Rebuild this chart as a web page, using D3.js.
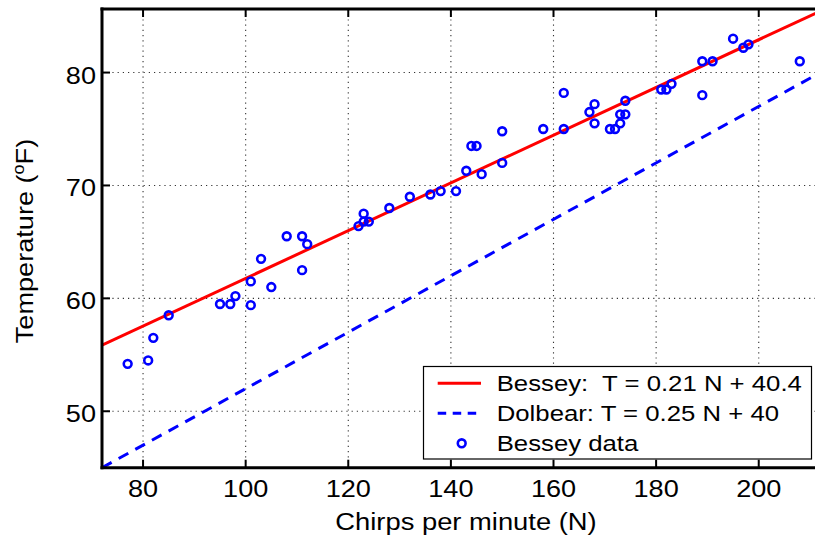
<!DOCTYPE html>
<html>
<head>
<meta charset="utf-8">
<script src="https://cdn.jsdelivr.net/npm/d3@7"></script>
<style>
  body { margin: 0; background: #fff; }
  text { font-family: "Liberation Sans", Arial, Helvetica, sans-serif; fill: #000; white-space: pre; }
</style>
</head>
<body>
<svg id="chart" width="815" height="538"></svg>
<script>
// Bessey cricket observations: chirps per minute and temperature (°F)
const chirps = [77, 81, 82, 85, 95, 97, 98, 101, 101, 103, 105, 108, 111, 111, 112,
  122, 123, 123, 124, 128, 132, 136, 138, 141, 143, 144, 145, 146, 150, 150,
  158, 162, 162, 167, 168, 168, 171, 172, 173, 173, 174, 174, 181, 182, 183,
  189, 189, 191, 195, 197, 198, 208];
const temps = [54.2, 54.5, 56.5, 58.5, 59.5, 59.5, 60.2, 59.4, 61.5, 63.5, 61.0, 65.5, 65.5, 62.5, 64.8,
  66.4, 67.5, 66.8, 66.8, 68.0, 69.0, 69.2, 69.5, 69.5, 71.3, 73.5, 73.5, 71.0, 74.8, 72.0,
  75.0, 78.2, 75.0, 76.5, 77.2, 75.5, 75.0, 75.0, 75.5, 76.3, 76.3, 77.5, 78.5, 78.5, 79.0,
  81.0, 78.0, 81.0, 83.0, 82.2, 82.5, 81.0];

// Straight-line relations T = slope * N + intercept
const fitSlopes = [0.2114, 0.25];
const fitIntercepts = [40.63, 27];

const xTicks = [80, 100, 120, 140, 160, 180, 200];
const yTicks = [50, 60, 70, 80];
const legendLabels = ["Bessey:  T = 0.21 N + 40.4", "Dolbear: T = 0.25 N + 40", "Bessey data"];

const svg = d3.select("#chart");
const padL = 102, padT = 9, baseY = 467.7, padR = 820.3;

const x = d3.scaleLinear().domain([72, 212]).range([padL, padR]);
const y = d3.scaleLinear().domain([45, 85.63]).range([baseY, padT]);

function label(g, px, py, str, size, anchor, rot, stretch = 1.13) {
  const t = g.append("g")
    .attr("transform", `translate(${px},${py})` + (rot ? ` rotate(${rot})` : "") + ` scale(${stretch},1)`)
    .append("text")
    .attr("text-anchor", anchor)
    .attr("font-size", size);
  if (str != null) t.text(str);
  return t;
}

svg.append("defs").append("clipPath").attr("id", "plotClip")
  .append("rect").attr("x", padL).attr("y", padT).attr("width", padR - padL).attr("height", baseY - padT);

// dotted grid
const grid = svg.append("g").attr("stroke", "#333").attr("stroke-width", 1.1).attr("stroke-dasharray", "1.2 4");
grid.selectAll("line.gx").data(xTicks).join("line")
  .attr("x1", d => x(d)).attr("x2", d => x(d)).attr("y1", padT).attr("y2", baseY);
grid.selectAll("line.gy").data(yTicks).join("line")
  .attr("y1", d => y(d)).attr("y2", d => y(d)).attr("x1", padL).attr("x2", padR);

// fitted relations
const plot = svg.append("g").attr("clip-path", "url(#plotClip)");
const xs = x.domain();
const fitLine = i => d3.line().x(d => x(d)).y(d => y(fitSlopes[i] * d + fitIntercepts[i]))(xs);
plot.append("path").attr("d", fitLine(0)).attr("fill", "none")
  .attr("stroke", "#ff0000").attr("stroke-width", 3);
plot.append("path").attr("d", fitLine(1)).attr("fill", "none")
  .attr("stroke", "#0000ff").attr("stroke-width", 3).attr("stroke-dasharray", "11 8");

// observations
plot.selectAll("circle").data(chirps).join("circle")
  .attr("cx", d => x(d)).attr("cy", (d, i) => y(temps[i])).attr("r", 3.9)
  .attr("fill", "none").attr("stroke", "#0000ff").attr("stroke-width", 2.6);

// axes frame and inward ticks
const axes = svg.append("g").attr("stroke", "#000");
axes.append("line").attr("x1", padL).attr("x2", padL).attr("y1", padT - 1.5).attr("y2", baseY + 1.5).attr("stroke-width", 3);
axes.append("line").attr("x1", padL - 1.5).attr("x2", 815).attr("y1", baseY).attr("y2", baseY).attr("stroke-width", 3);
axes.append("line").attr("x1", padL - 1.5).attr("x2", 815).attr("y1", padT).attr("y2", padT).attr("stroke-width", 3);
axes.selectAll("line.tb").data(xTicks).join("line").attr("stroke-width", 2)
  .attr("x1", d => x(d)).attr("x2", d => x(d)).attr("y1", baseY).attr("y2", baseY - 8);
axes.selectAll("line.tt").data(xTicks).join("line").attr("stroke-width", 2)
  .attr("x1", d => x(d)).attr("x2", d => x(d)).attr("y1", padT).attr("y2", padT + 8);
axes.selectAll("line.tl").data(yTicks).join("line").attr("stroke-width", 2)
  .attr("y1", d => y(d)).attr("y2", d => y(d)).attr("x1", padL).attr("x2", padL + 8);

const txt = svg.append("g");
xTicks.forEach(v => label(txt, x(v), 497.3, String(v), 24, "middle"));
yTicks.forEach(v => label(txt, 96, y(v) + 11, String(v), 24, "end"));

// axis titles
label(txt, 466, 530, "Chirps per minute (N)", 24, "middle", 0, 1.14);
const yl = label(txt, 33, 241, null, 24, "middle", -90);
yl.append("tspan").text("Temperature (");
yl.append("tspan").attr("font-size", 16).attr("dy", -9).text("o");
yl.append("tspan").attr("dy", 9).text("F)");

// legend
const lg = svg.append("g");
lg.append("rect").attr("x", 423.5).attr("y", 366.5).attr("width", 388).attr("height", 92.5)
  .attr("fill", "#fff").attr("stroke", "#000").attr("stroke-width", 1.2);
const rowY = [383.3, 413.3, 443.3];
lg.append("line").attr("x1", 437.7).attr("x2", 481).attr("y1", rowY[0]).attr("y2", rowY[0])
  .attr("stroke", "#ff0000").attr("stroke-width", 3);
lg.append("line").attr("x1", 437.7).attr("x2", 481).attr("y1", rowY[1]).attr("y2", rowY[1])
  .attr("stroke", "#0000ff").attr("stroke-width", 3).attr("stroke-dasharray", "8.5 6.5");
lg.append("circle").attr("cx", 461.7).attr("cy", rowY[2]).attr("r", 3.9)
  .attr("fill", "none").attr("stroke", "#0000ff").attr("stroke-width", 2.6);
legendLabels.forEach((s, i) => label(lg, 496.7, rowY[i] + 8, s, 22, "start", 0, 1.17));
</script>
</body>
</html>
